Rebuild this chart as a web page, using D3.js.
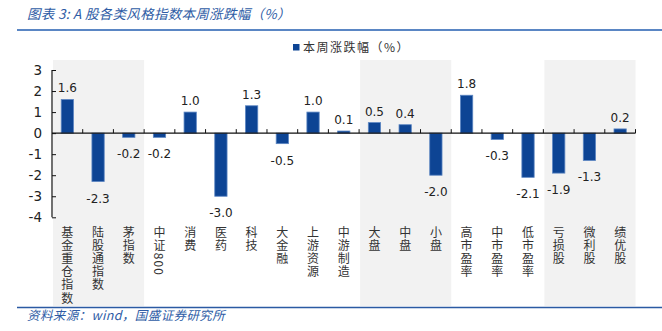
<!DOCTYPE html>
<html>
<head>
<meta charset="utf-8">
<script src="https://cdn.jsdelivr.net/npm/d3@7/dist/d3.min.js"></script>
<style>
  html, body { margin: 0; padding: 0; background: #fff; }
  svg { display: block; }
</style>
</head>
<body>
<script>
// Style indices and their weekly change (%)
const categories = ["基金重仓指数", "陆股通指数", "茅指数", "中证800", "消费", "医药", "科技", "大金融",
  "上游资源", "中游制造", "大盘", "中盘", "小盘", "高市盈率", "中市盈率", "低市盈率", "亏损股", "微利股", "绩优股"];
const weeklyChange = [1.6, -2.3, -0.2, -0.2, 1.0, -3.0, 1.3, -0.5, 1.0, 0.1, 0.5, 0.4, -2.0, 1.8, -0.3, -2.1, -1.9, -1.3, 0.2];
const yTicks = [3, 2, 1, 0, -1, -2, -3, -4];
// Groups drawn on a grey background (first and last category of each)
const shadedGroups = [["基金重仓指数", "茅指数"], ["大盘", "小盘"], ["亏损股", "绩优股"]];

const titleText = "图表 3: A 股各类风格指数本周涨跌幅（%）";
const legendText = "本周涨跌幅（%）";
const sourceText = "资料来源：wind，国盛证券研究所";

const W = 662, H = 331;
const svg = d3.select("body").append("svg").attr("width", W).attr("height", H);

const x = d3.scaleBand().domain(categories).range([52, 635.5]).padding(0);
const y = d3.scaleLinear().domain([-4, 3]).range([217.3, 70]);
const barW = x.bandwidth() * 0.4;
const fmt = v => d3.format(".1f")(v).replace("\u2212", "-");

const cjk = "'Noto Sans CJK SC', sans-serif";
const num = "'DejaVu Sans', Verdana, sans-serif";

// Grey group backgrounds
svg.append("g").selectAll("rect").data(shadedGroups).join("rect")
  .attr("x", d => x(d[0]) + 1)
  .attr("width", d => x(d[1]) + x.bandwidth() - x(d[0]) - 1)
  .attr("y", 60).attr("height", 246)
  .attr("fill", "#f2f2f2");

// Title and rule
svg.append("text").attr("x", 27).attr("y", 19)
  .attr("font-family", cjk).attr("font-size", 13.5).attr("font-style", "italic")
  .attr("letter-spacing", 0.3)
  .attr("fill", "#2e5ca5").text(titleText);
svg.append("line").attr("x1", 17).attr("x2", W).attr("y1", 30).attr("y2", 30)
  .attr("stroke", "#5a86c4").attr("stroke-width", 2);

// Legend
const lg = svg.append("g");
lg.append("rect").attr("x", 293).attr("y", 44).attr("width", 6.5).attr("height", 6.5).attr("fill", "#0d4494");
lg.append("text").attr("x", 303).attr("y", 51.5)
  .attr("font-family", cjk).attr("font-size", 12).attr("letter-spacing", 1.5)
  .attr("fill", "#333").text(legendText);

// Bars
svg.append("g").selectAll("rect").data(categories).join("rect")
  .attr("x", (d) => x(d) + (x.bandwidth() - barW) / 2)
  .attr("width", barW)
  .attr("y", (d, i) => Math.min(y(weeklyChange[i]), y(0)))
  .attr("height", (d, i) => Math.abs(y(weeklyChange[i]) - y(0)))
  .attr("fill", "#0d4494")
  .attr("stroke", "#5c86c2").attr("stroke-width", 0.8);

// Value labels
svg.append("g").selectAll("text").data(categories).join("text")
  .attr("x", d => x(d) + x.bandwidth() / 2)
  .attr("y", (d, i) => weeklyChange[i] >= 0 ? y(weeklyChange[i]) - 7 : y(weeklyChange[i]) + 21)
  .attr("text-anchor", "middle")
  .attr("font-family", num).attr("font-size", 12).attr("fill", "#222")
  .text((d, i) => fmt(weeklyChange[i]));

// Y axis
const yAxis = d3.axisRight(y).tickValues(yTicks).tickSize(4).tickFormat("");
const ya = svg.append("g").attr("transform", "translate(52,0)").call(yAxis);
ya.select(".domain").attr("stroke", "#111").attr("stroke-width", 1.2).attr("d", `M0,${y(3)}V${y(-4)}`);
ya.selectAll(".tick line").attr("stroke", "#111");
svg.append("g").selectAll("text").data(yTicks).join("text")
  .attr("x", 42).attr("y", d => y(d) + 5)
  .attr("text-anchor", "end")
  .attr("font-family", num).attr("font-size", 13.5).attr("fill", "#222")
  .text(d => d);

// Zero line with category boundary ticks
svg.append("line").attr("x1", 52).attr("x2", 635.5).attr("y1", y(0)).attr("y2", y(0))
  .attr("stroke", "#111").attr("stroke-width", 1.2);
svg.append("g").selectAll("line").data(categories.slice(1).concat(["__end"])).join("line")
  .attr("x1", d => d === "__end" ? 635.5 : x(d))
  .attr("x2", d => d === "__end" ? 635.5 : x(d))
  .attr("y1", y(0)).attr("y2", y(0) - 4)
  .attr("stroke", "#111");

// Vertical category labels (digits turn sideways in vertical writing mode)
svg.append("g").selectAll("text").data(categories).join("text")
  .attr("x", d => x(d) + x.bandwidth() / 2)
  .attr("y", 226.5)
  .style("writing-mode", "vertical-rl")
  .style("text-orientation", "mixed")
  .attr("letter-spacing", 1.1)
  .attr("font-family", cjk).attr("font-size", 12).attr("fill", "#333")
  .text(d => d);

// Source line and note
svg.append("line").attr("x1", 17).attr("x2", W).attr("y1", 307.5).attr("y2", 307.5)
  .attr("stroke", "#2b5aa3").attr("stroke-width", 1.5);
svg.append("text").attr("x", 27).attr("y", 320)
  .attr("font-family", cjk).attr("font-size", 12.5).attr("font-style", "italic")
  .attr("letter-spacing", 0.4)
  .attr("fill", "#2e5ca5").text(sourceText);
</script>
</body>
</html>
